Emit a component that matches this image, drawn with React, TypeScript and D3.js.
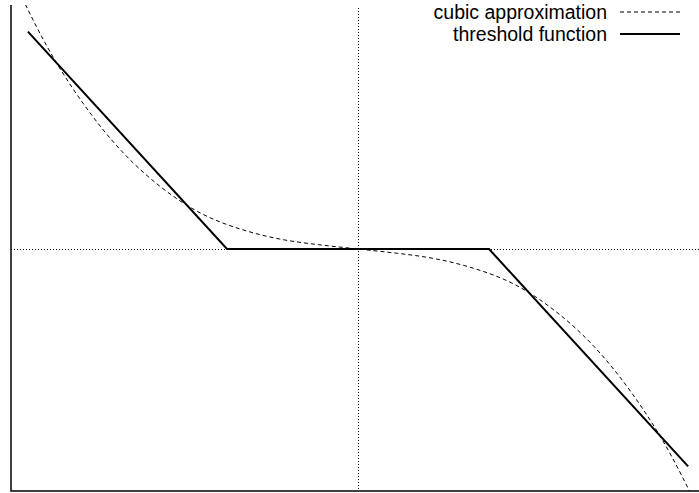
import React, { useEffect, useRef } from "react";
import * as d3 from "d3";

// threshold (soft-shrink) function, corner points
const thresholdX = [-2.52, -1.0, 1.0, 2.52];
const thresholdY = [1.52, 0, 0, -1.52];

// cubic approximation
const cubicX = [-2.7, -2.4, -2.1, -1.8, -1.5, -1.2, -0.9, -0.6, -0.3, 0, 0.3, 0.6, 0.9, 1.2, 1.5, 1.8, 2.1, 2.4, 2.7];
const cubicY = [2.02, 1.46, 1.02, 0.68, 0.43, 0.25, 0.14, 0.07, 0.03, 0, -0.03, -0.07, -0.14, -0.25, -0.43, -0.68, -1.02, -1.46, -2.02];

const legendLabels = ["cubic approximation", "threshold function"];

const W = 699;
const H = 493;

export default function App() {
  const ref = useRef<SVGSVGElement>(null);

  useEffect(() => {
    const svg = d3.select(ref.current);
    svg.selectAll("*").remove();

    const margin = { top: 5, right: 0, bottom: 2, left: 11 };
    const x = d3.scaleLinear().domain([-2.649, 2.603]).range([margin.left, W - margin.right]);
    const y = d3.scaleLinear().domain([-1.692, 1.706]).range([H - margin.bottom, margin.top]);

    svg
      .append("defs")
      .append("clipPath")
      .attr("id", "plotclip")
      .append("rect")
      .attr("x", margin.left)
      .attr("y", margin.top)
      .attr("width", W - margin.left - margin.right)
      .attr("height", H - margin.bottom - margin.top);

    // zero axes
    svg
      .append("line")
      .attr("x1", Math.round(x(0)) + 0.5)
      .attr("x2", Math.round(x(0)) + 0.5)
      .attr("y1", margin.top + 3)
      .attr("y2", H - margin.bottom)
      .attr("stroke", "#000")
      .attr("stroke-width", 1)
      .attr("stroke-dasharray", "1,2");
    svg
      .append("line")
      .attr("x1", margin.left)
      .attr("x2", W)
      .attr("y1", Math.round(y(0)) + 0.5)
      .attr("y2", Math.round(y(0)) + 0.5)
      .attr("stroke", "#000")
      .attr("stroke-width", 1)
      .attr("stroke-dasharray", "1,2");

    const g = svg.append("g").attr("clip-path", "url(#plotclip)");

    const cubicLine = d3
      .line<number>()
      .x((d) => x(d))
      .y((d, i) => y(cubicY[i]))
      .curve(d3.curveNatural);
    g.append("path")
      .attr("d", cubicLine(cubicX))
      .attr("fill", "none")
      .attr("stroke", "#000")
      .attr("stroke-width", 1)
      .attr("stroke-dasharray", "4,3");

    const thrLine = d3
      .line<number>()
      .x((d) => x(d))
      .y((d, i) => y(thresholdY[i]));
    g.append("path")
      .attr("d", thrLine(thresholdX))
      .attr("fill", "none")
      .attr("stroke", "#000")
      .attr("stroke-width", 2);

    // border (left + bottom)
    svg
      .append("path")
      .attr("d", `M${margin.left},${margin.top}V${H - margin.bottom}H${W}`)
      .attr("fill", "none")
      .attr("stroke", "#000")
      .attr("stroke-width", 1.5);

    // legend
    const legend = svg.append("g");
    legendLabels.forEach((label, i) => {
      const ly = 12 + i * 22;
      legend
        .append("text")
        .attr("x", 607)
        .attr("y", ly + 7)
        .attr("text-anchor", "end")
        .attr("font-family", "'Liberation Sans', Arial, sans-serif")
        .attr("font-size", 19.5)
        .attr("fill", "#000")
        .text(label);
      legend
        .append("line")
        .attr("x1", 620)
        .attr("x2", 680)
        .attr("y1", ly)
        .attr("y2", ly)
        .attr("stroke", "#000")
        .attr("stroke-width", i === 0 ? 1 : 2)
        .attr("stroke-dasharray", i === 0 ? "4,3" : null);
    });
  }, []);

  return (
    <svg
      ref={ref}
      width={W}
      height={H}
      style={{ position: "absolute", left: 0, top: 0, background: "#fff" }}
    />
  );
}
